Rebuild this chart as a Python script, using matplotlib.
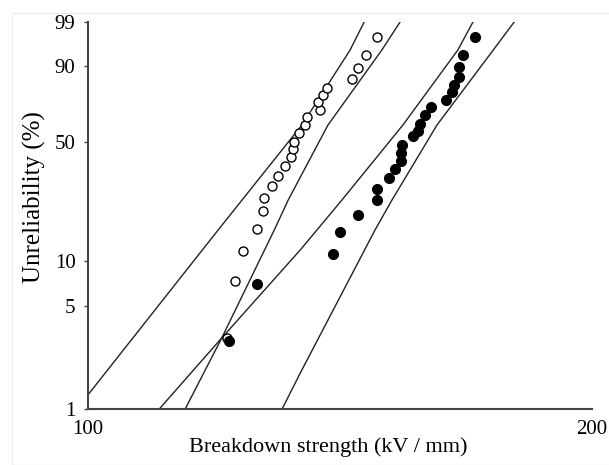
import numpy as np
import matplotlib.pyplot as plt
from matplotlib.patches import Rectangle
from matplotlib.ticker import NullLocator, FixedLocator, FixedFormatter

# breakdown data (kV/mm) and unreliability (%)
open_x = [121.1, 122.4, 123.8, 126.2, 127.2, 127.4, 128.8, 129.9, 131.1, 132.2, 132.6, 132.8,
          133.7, 134.8, 135.2, 137.6, 137.2, 138.2, 138.9, 143.8, 145.0, 146.6, 148.8]
open_f = [3.05, 7.34, 11.54, 15.94, 20.62, 24.70, 29.04, 33.08, 37.56, 41.89, 46.01, 49.78,
          54.78, 59.39, 64.02, 68.09, 72.66, 76.52, 80.20, 84.53, 89.15, 93.47, 97.35]

fill_x = [121.4, 126.2, 140.1, 141.4, 145.0, 148.8, 148.8, 151.3, 152.5, 153.8, 153.8, 154.0,
          156.4, 157.4, 157.9, 159.0, 160.3, 163.6, 165.0, 165.4, 166.6, 166.6, 167.5, 170.3]
fill_f = [2.91, 7.01, 11.04, 15.26, 19.49, 24.04, 27.91, 32.26, 36.17, 39.93, 43.94, 48.13,
          53.10, 55.94, 59.98, 65.20, 69.83, 73.79, 78.11, 81.68, 85.44, 89.53, 93.47, 97.35]

# confidence bounds
open_lo_x = [100.0, 119.6, 123.6, 134.2, 143.4, 146.2]
open_lo_f = [1.25, 15.72, 24.04, 59.39, 94.79, 99.0]
open_hi_x = [114.3, 120.2, 129.2, 131.7, 139.1, 149.8, 153.6]
open_hi_f = [1.0, 3.05, 15.72, 24.04, 59.39, 94.79, 99.0]
fill_lo_x = [110.3, 120.2, 133.9, 141.8, 154.2, 166.3, 169.8]
fill_lo_f = [1.0, 3.05, 11.72, 24.04, 59.39, 94.79, 99.0]
fill_hi_x = [130.6, 133.9, 148.4, 151.9, 161.6, 174.6, 179.7]
fill_hi_f = [1.0, 1.76, 15.72, 24.04, 59.39, 94.79, 99.0]

y_ticks = [1, 5, 10, 50, 90, 99]
x_ticks = [100, 200]


def weib(p):
    p = np.clip(np.asarray(p, dtype=float), 1e-6, 100 - 1e-6)
    return np.log(-np.log(1 - p / 100.0))


def weib_inv(z):
    return 100.0 * (1 - np.exp(-np.exp(np.asarray(z, dtype=float))))


serif = ['Liberation Serif', 'DejaVu Serif']
plt.rcParams['font.family'] = serif

W, H = 609, 465
fig = plt.figure(figsize=(W / 100, H / 100), dpi=100)
fig.patches.append(Rectangle((12 / W, 0), 1, 1 - 13 / H, transform=fig.transFigure,
                             fill=False, edgecolor='#eeeeee', lw=1))
ax = fig.add_axes([88 / W, (H - 409) / H, 504 / W, 387 / H])
ax.set_xscale('log')
ax.set_yscale('function', functions=(weib, weib_inv))

for bx, bf in [(open_lo_x, open_lo_f), (open_hi_x, open_hi_f),
               (fill_lo_x, fill_lo_f), (fill_hi_x, fill_hi_f)]:
    ax.plot(bx, bf, color='#222222', lw=1.0)

ax.plot(open_x, open_f, 'o', ms=6.5, mfc='white', mec='black', mew=1.0)
ax.plot(fill_x, fill_f, 'o', ms=7, mfc='black', mec='black')

ax.set_xlim(100, 200)
ax.set_ylim(1, 99)
ax.xaxis.set_major_locator(FixedLocator(x_ticks))
ax.xaxis.set_major_formatter(FixedFormatter([str(v) for v in x_ticks]))
ax.xaxis.set_minor_locator(NullLocator())
ax.yaxis.set_major_locator(FixedLocator(y_ticks))
ax.yaxis.set_major_formatter(FixedFormatter([str(v) for v in y_ticks]))
ax.yaxis.set_minor_locator(NullLocator())

for s in ['top', 'right']:
    ax.spines[s].set_visible(False)
for s in ['left', 'bottom']:
    ax.spines[s].set_color('#444444')
    ax.spines[s].set_linewidth(1.5)
ax.tick_params(axis='y', length=3, width=1, color='#444444', labelsize=15, pad=6)
ax.tick_params(axis='x', length=0, labelsize=15, pad=8)

fig.text(328 / W, 1 - 447 / H, 'Breakdown strength (kV / mm)', ha='center', va='center',
         fontsize=16)
fig.text(34 / W, 1 - 197 / H, 'Unreliability (%)', ha='center', va='center',
         rotation=90, fontsize=18)

fig.savefig('out.png', dpi=100)
